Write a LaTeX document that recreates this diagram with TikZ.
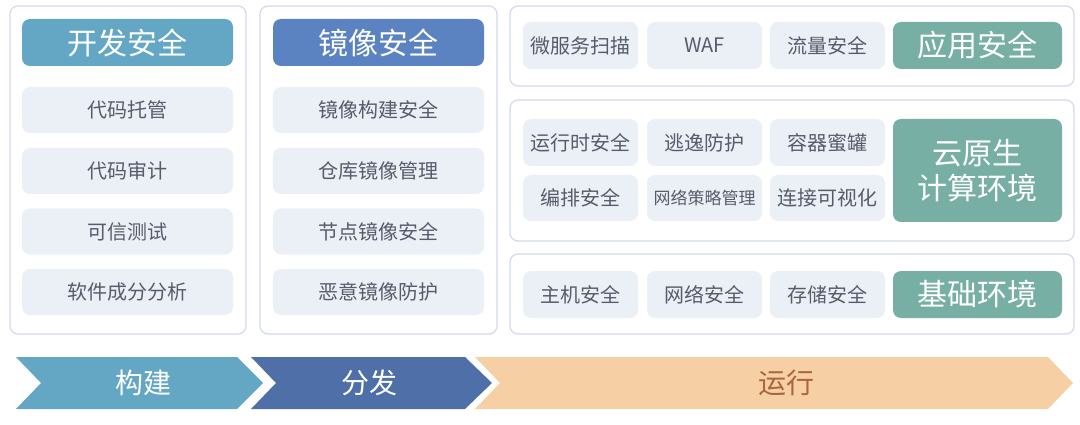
\documentclass[tikz,border=0pt]{standalone}
\usepackage{fontspec}
\setmainfont{Noto Sans CJK SC}
\definecolor{hdrA}{HTML}{64A7C5}
\definecolor{hdrB}{HTML}{5B83C1}
\definecolor{teal}{HTML}{77AFA5}
\definecolor{itembg}{HTML}{EBEFF6}
\definecolor{panelln}{HTML}{D3D8EE}
\definecolor{itemtx}{HTML}{575C6B}
\definecolor{arrA}{HTML}{64A7C5}
\definecolor{arrB}{HTML}{4E6FA8}
\definecolor{arrC}{HTML}{F7CFA4}
\definecolor{arrCtx}{HTML}{A8673C}
\tikzset{
  panel/.style={draw=panelln, line width=1.2pt, fill=white, rounded corners=8pt, inner sep=0pt},
  item/.style={fill=itembg, rounded corners=8pt, inner sep=0pt, text=itemtx, font=\fontsize{20}{23}\selectfont},
  hdr/.style={rounded corners=8pt, inner sep=0pt, text=white, align=center, font=\fontsize{30}{36}\selectfont},
  arrlbl/.style={inner sep=0pt, font=\fontsize{28}{32}\selectfont}
}
\begin{document}
\begin{tikzpicture}[x=1pt,y=-1pt]
\useasboundingbox (0,0) rectangle (1080,425);
% left panel
\node[panel, minimum width=236pt, minimum height=328pt] (pL) at (128,170) {};
\node[hdr, fill=hdrA, minimum width=211pt, minimum height=47pt] (hL) at (127.5,42.5) {开发安全};
\node[item, minimum width=211pt, minimum height=46pt] (l1) at (127.5,110) {代码托管};
\node[item, minimum width=211pt, minimum height=46pt] (l2) at (127.5,171) {代码审计};
\node[item, minimum width=211pt, minimum height=46pt] (l3) at (127.5,231.5) {可信测试};
\node[item, minimum width=211pt, minimum height=46pt] (l4) at (127.5,292) {软件成分分析};
% middle panel
\node[panel, minimum width=237pt, minimum height=328pt] (pM) at (378.5,170) {};
\node[hdr, fill=hdrB, minimum width=211pt, minimum height=47pt] (hM) at (378.5,42.5) {镜像安全};
\node[item, minimum width=211pt, minimum height=46pt] (m1) at (378.5,110) {镜像构建安全};
\node[item, minimum width=211pt, minimum height=46pt] (m2) at (378.5,171) {仓库镜像管理};
\node[item, minimum width=211pt, minimum height=46pt] (m3) at (378.5,231.5) {节点镜像安全};
\node[item, minimum width=211pt, minimum height=46pt] (m4) at (378.5,292) {恶意镜像防护};
% right panels
\node[panel, minimum width=564pt, minimum height=80pt] (pA) at (792,46) {};
\node[panel, minimum width=564pt, minimum height=141pt] (pB) at (792,170.5) {};
\node[panel, minimum width=564pt, minimum height=80pt] (pC) at (792,294) {};
% row A
\node[item, minimum width=115pt, minimum height=47pt] (a1) at (580.5,45.5) {微服务扫描};
\node[item, minimum width=115pt, minimum height=47pt] (a2) at (704.5,45.5) {WAF};
\node[item, minimum width=115pt, minimum height=47pt] (a3) at (827.5,45.5) {流量安全};
\node[hdr, fill=teal, minimum width=169pt, minimum height=47pt] (hA) at (977.5,45.5) {应用安全};
% row B
\node[item, minimum width=115pt, minimum height=47pt] (b1) at (580.5,142.5) {运行时安全};
\node[item, minimum width=115pt, minimum height=47pt] (b2) at (704.5,142.5) {逃逸防护};
\node[item, minimum width=115pt, minimum height=47pt] (b3) at (827.5,142.5) {容器蜜罐};
\node[item, minimum width=115pt, minimum height=46pt] (b4) at (580.5,198) {编排安全};
\node[item, minimum width=115pt, minimum height=46pt, font=\fontsize{17}{20}\selectfont] (b5) at (704.5,198) {网络策略管理};
\node[item, minimum width=115pt, minimum height=46pt] (b6) at (827.5,198) {连接可视化};
\node[hdr, fill=teal, minimum width=169pt, minimum height=103pt, font=\fontsize{30}{35}\selectfont] (hB) at (977.5,170.5) {云原生\\计算环境};
% row C
\node[item, minimum width=115pt, minimum height=47pt] (c1) at (580.5,294.5) {主机安全};
\node[item, minimum width=115pt, minimum height=47pt] (c2) at (704.5,294.5) {网络安全};
\node[item, minimum width=115pt, minimum height=47pt] (c3) at (827.5,294.5) {存储安全};
\node[hdr, fill=teal, minimum width=169pt, minimum height=47pt] (hC) at (977.5,294.5) {基础环境};
% bottom chevrons
\fill[arrA] (16,357) -- (237,357) -- (263,383) -- (237,409) -- (16,409) -- (41,383) -- cycle;
\fill[arrB] (251,357) -- (465,357) -- (492,383) -- (465,409) -- (251,409) -- (276,383) -- cycle;
\fill[arrC] (475,357) -- (1048,357) -- (1073,383) -- (1048,409) -- (475,409) -- (500,383) -- cycle;
\node[arrlbl, text=white] (t1) at (143,383) {构建};
\node[arrlbl, text=white] (t2) at (369,383) {分发};
\node[arrlbl, text=arrCtx] (t3) at (786,383) {运行};
\end{tikzpicture}
\end{document}
